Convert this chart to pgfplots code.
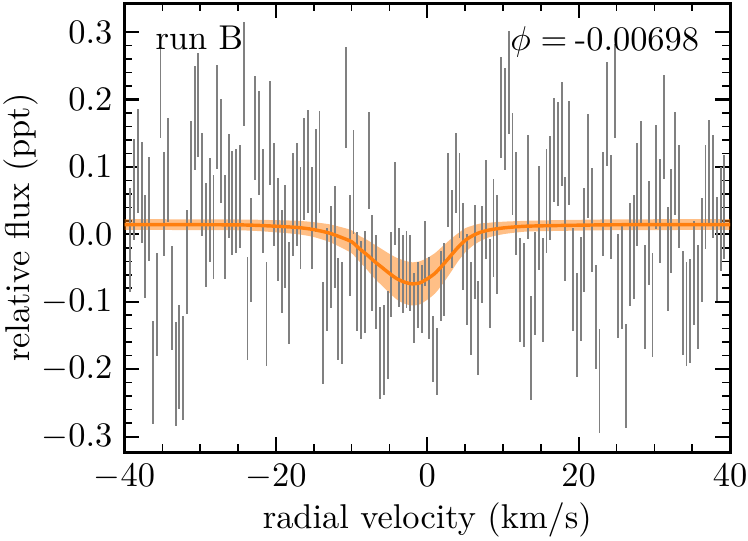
\documentclass[border=0pt]{standalone}
\usepackage{pgfplots}
\pgfplotsset{compat=1.18}
\usepackage{pgfplotstable}
\usepgfplotslibrary{fillbetween}
\definecolor{taborange}{HTML}{FF7F0E}
\definecolor{bargray}{HTML}{808080}

\pgfplotstableread{
x y e
-39.25 -0.009 0.077
-38.75 0.066 0.075
-38.25 0.109 0.077
-37.75 0.062 0.075
-37.25 -0.018 0.077
-36.75 0.037 0.077
-36.25 -0.205 0.077
-35.75 -0.104 0.077
-35.25 0.214 0.071
-34.75 0.045 0.077
-34.25 0.096 0.077
-33.75 -0.094 0.077
-33.25 -0.207 0.077
-32.75 -0.182 0.077
-32.25 -0.198 0.077
-31.75 -0.041 0.077
-31.25 0.091 0.077
-30.75 0.172 0.077
-30.25 0.192 0.077
-29.75 0.074 0.077
-29.25 -0.001 0.077
-28.75 0.036 0.077
-28.25 0.011 0.077
-27.75 0.174 0.077
-27.25 0.124 0.077
-26.75 0.011 0.077
-26.25 0.072 0.077
-25.75 0.047 0.077
-25.25 0.049 0.077
-24.75 0.056 0.077
-24.25 0.238 0.077
-23.75 -0.110 0.077
-23.25 -0.023 0.077
-22.75 0.158 0.077
-22.25 0.136 0.077
-21.75 0.050 0.077
-21.25 -0.118 0.077
-20.75 0.150 0.077
-20.25 0.059 0.077
-19.75 0.007 0.076
-19.25 -0.040 0.076
-18.75 -0.003 0.076
-18.25 -0.087 0.076
-17.75 0.044 0.076
-17.25 0.059 0.076
-16.75 0.024 0.076
-16.25 0.097 0.076
-15.75 0.108 0.076
-15.25 0.024 0.076
-14.75 0.080 0.076
-14.25 0.107 0.076
-13.75 -0.146 0.076
-13.25 -0.067 0.076
-12.75 -0.034 0.076
-12.25 -0.004 0.076
-11.75 -0.111 0.076
-11.25 -0.117 0.076
-10.75 0.203 0.075
-10.25 -0.016 0.075
-9.75 0.077 0.077
-9.25 -0.070 0.074
-8.75 -0.083 0.073
-8.25 -0.071 0.076
-7.75 0.109 0.072
-7.25 -0.042 0.071
-6.75 -0.071 0.070
-6.25 -0.176 0.068
-5.75 -0.172 0.067
-5.25 -0.149 0.065
-4.75 -0.059 0.063
-4.25 0.046 0.062
-3.75 -0.049 0.059
-3.25 -0.059 0.058
-2.75 -0.052 0.057
-2.25 -0.057 0.056
-1.75 -0.109 0.052
-1.25 -0.090 0.049
-0.75 -0.096 0.050
-0.25 -0.028 0.048
0.25 -0.095 0.061
0.75 -0.170 0.049
1.25 -0.189 0.050
1.75 -0.077 0.052
2.25 -0.067 0.054
2.75 0.066 0.055
3.25 0.008 0.058
3.75 0.091 0.060
4.25 0.058 0.063
4.75 -0.018 0.065
5.25 -0.067 0.067
5.75 -0.110 0.069
6.25 -0.026 0.070
6.75 -0.139 0.070
7.25 -0.030 0.072
7.75 0.037 0.073
8.25 -0.073 0.066
8.75 0.009 0.073
9.25 -0.015 0.074
9.75 0.188 0.075
10.25 0.171 0.075
10.75 0.225 0.076
11.25 0.104 0.076
11.75 0.046 0.076
12.25 -0.082 0.077
12.75 -0.090 0.077
13.25 0.070 0.077
13.75 -0.169 0.077
14.25 -0.073 0.077
14.75 0.024 0.077
15.25 -0.082 0.077
15.75 0.049 0.077
16.25 0.069 0.077
16.75 0.125 0.077
17.25 0.119 0.077
17.75 0.149 0.077
18.25 0.008 0.077
18.75 0.121 0.077
19.25 -0.067 0.077
19.75 -0.135 0.077
20.25 -0.081 0.077
20.75 -0.009 0.077
21.25 0.101 0.077
21.75 0.021 0.077
22.25 -0.123 0.077
22.75 -0.217 0.077
23.25 0.045 0.077
23.75 0.178 0.077
24.25 0.040 0.077
24.75 0.213 0.070
25.25 -0.077 0.077
25.75 -0.063 0.077
26.25 -0.210 0.077
26.75 -0.030 0.077
27.25 -0.019 0.077
27.75 0.059 0.077
28.25 0.091 0.077
28.75 -0.093 0.077
29.25 0.002 0.077
29.75 -0.105 0.077
30.25 0.085 0.077
30.75 0.035 0.077
31.25 0.159 0.077
31.75 -0.037 0.077
32.25 0.020 0.077
32.75 0.105 0.077
33.25 0.056 0.077
33.75 -0.102 0.077
34.25 -0.118 0.077
34.75 -0.114 0.077
35.25 -0.057 0.077
35.75 -0.093 0.077
36.25 -0.023 0.077
36.75 0.055 0.077
37.25 0.093 0.077
37.75 0.071 0.077
38.25 -0.022 0.077
38.75 0.023 0.077
39.25 0.041 0.077
}\obsdata

\pgfplotstableread{
x y up lo
-40 0.0145 0.0225 0.0065
-25 0.0140 0.0220 0.0060
-20 0.0120 0.0210 0.0030
-17 0.0100 0.0200 0.0000
-15 0.0070 0.0180 -0.0040
-13 0.0020 0.0150 -0.0110
-11.5 -0.0040 0.0110 -0.0190
-10 -0.0110 0.0060 -0.0280
-9 -0.0210 -0.0020 -0.0400
-8 -0.0300 -0.0080 -0.0520
-7 -0.0400 -0.0150 -0.0650
-6 -0.0490 -0.0220 -0.0760
-5 -0.0580 -0.0290 -0.0870
-4 -0.0660 -0.0350 -0.0970
-3 -0.0710 -0.0390 -0.1030
-2 -0.0735 -0.0415 -0.1055
-1 -0.0720 -0.0400 -0.1040
0 -0.0660 -0.0350 -0.0970
1 -0.0580 -0.0280 -0.0880
2 -0.0460 -0.0180 -0.0740
3 -0.0330 -0.0080 -0.0580
4 -0.0200 0.0010 -0.0410
5 -0.0090 0.0090 -0.0270
6 -0.0020 0.0130 -0.0170
7 0.0030 0.0160 -0.0100
8 0.0060 0.0170 -0.0050
9 0.0080 0.0180 -0.0020
10.5 0.0100 0.0190 0.0010
13 0.0120 0.0200 0.0040
17 0.0130 0.0210 0.0050
25 0.0142 0.0222 0.0062
40 0.0145 0.0225 0.0065
}\modeldata

\begin{document}
\begin{tikzpicture}
\begin{axis}[
  at={(0,0)}, anchor=south west,
  scale only axis,
  width=176pt, height=130.5pt,
  xmin=-40, xmax=40,
  ymin=-0.323, ymax=0.343,
  xtick={-40,-20,0,20,40},
  ytick={-0.3,-0.2,-0.1,0,0.1,0.2,0.3},
  minor x tick num=3,
  minor y tick num=4,
  yticklabel style={/pgf/number format/.cd, fixed, fixed zerofill, precision=1},
  tick align=inside,
  xtick pos=both, ytick pos=both,
  major tick length=4.3pt,
  minor tick length=2.3pt,
  every major tick/.style={black, line width=0.6pt},
  every minor tick/.style={black, line width=0.45pt},
  axis line style={line width=0.9pt},
  xlabel={radial velocity (km/s)},
  ylabel={relative flux (ppt)},
  xlabel style={at={(rel axis cs:0.5,0)}, anchor=base, yshift=-22.1pt},
  ylabel style={at={(rel axis cs:0,0.5)}, anchor=base, yshift=27.5pt},
  clip=true,
]
\addplot[draw=none, mark=none,
  error bars/.cd, y dir=both, y explicit, error mark=none,
  error bar style={draw=bargray, line width=0.55pt}]
  table[x=x, y=y, y error=e] {\obsdata};

\addplot[name path=up, draw=none, smooth, tension=0.4, forget plot] table[x=x, y=up] {\modeldata};
\addplot[name path=lo, draw=none, smooth, tension=0.4, forget plot] table[x=x, y=lo] {\modeldata};
\addplot[taborange, fill opacity=0.5, draw=none] fill between[of=up and lo];
\addplot[taborange, line width=1pt, smooth, tension=0.4] table[x=x, y=y] {\modeldata};

\node[anchor=north west, inner sep=0pt] at (rel axis cs:0.05,0.95) {run B};
\node[anchor=north east, inner sep=0pt] at (rel axis cs:0.95,0.95) {$\phi =$\kern2.2pt-0.00698};
\end{axis}
\pgfresetboundingbox
\path[use as bounding box] (-36.2pt,-25.6pt) rectangle (181.2pt,131.4pt);
\end{tikzpicture}
\end{document}
